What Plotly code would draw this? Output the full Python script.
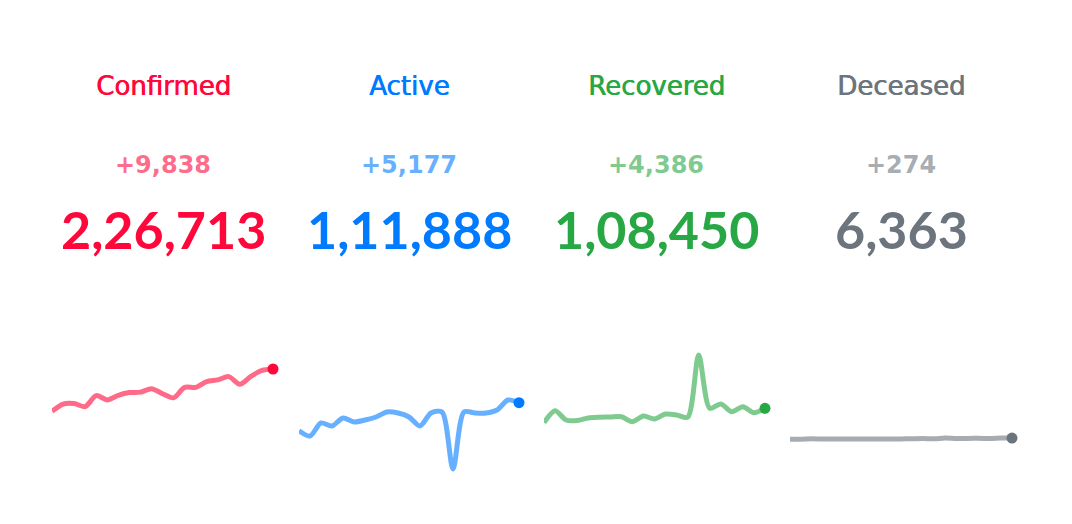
import plotly.graph_objects as go

categories = ["Confirmed", "Active", "Recovered", "Deceased"]
deltas = ["+9,838", "+5,177", "+4,386", "+274"]
totals = ["2,26,713", "1,11,888", "1,08,450", "6,363"]

days = list(range(21))
confirmed_daily = [3967, 4987, 5050, 4630, 6147, 5553, 6198, 6568, 6629, 7111, 6414,
                   5843, 7293, 7300, 8105, 8336, 8782, 7723, 8812, 9633, 9838]
active_daily = [1290, 550, 2360, 1940, 3050, 2500, 2770, 3190, 3880, 3740, 3190,
                1940, 3740, 3880, -4020, 3880, 3740, 3740, 4160, 5540, 5177]
recovered_daily = [2400, 4060, 2770, 2700, 3050, 3150, 3190, 3230, 2540, 3330, 2910,
                   3600, 3470, 3150, 11780, 4390, 4990, 3920, 4620, 3780, 4386]
deceased_daily = [100, 120, 157, 134, 132, 140, 132, 148, 137, 147, 146,
                  170, 194, 175, 265, 193, 223, 230, 204, 260, 274]

series = [confirmed_daily, active_daily, recovered_daily, deceased_daily]
strong = ["#ff073a", "#007bff", "#28a745", "#6c757d"]
light = ["rgba(255,7,58,0.6)", "rgba(0,123,255,0.6)", "rgba(40,167,69,0.6)", "rgba(108,117,125,0.6)"]

W, H = 1072, 524
x_px = [(52, 273), (299, 519), (544, 765), (790, 1012)]
centers = [163, 409, 656, 901]

fig = go.Figure()
for i, vals in enumerate(series):
    xa = "x" if i == 0 else f"x{i+1}"
    fig.add_trace(go.Scatter(x=days, y=vals, mode="lines", xaxis=xa, yaxis="y",
                             line=dict(color=light[i], width=5, shape="spline", smoothing=0.8),
                             cliponaxis=False, hoverinfo="skip", showlegend=False))
    fig.add_trace(go.Scatter(x=[days[-1]], y=[vals[-1]], mode="markers", xaxis=xa, yaxis="y",
                             marker=dict(color=strong[i], size=11), cliponaxis=False,
                             hoverinfo="skip", showlegend=False))

layout = dict(width=W, height=H, margin=dict(l=0, r=0, t=0, b=0),
              paper_bgcolor="white", plot_bgcolor="rgba(0,0,0,0)")
for i in range(4):
    key = "xaxis" if i == 0 else f"xaxis{i+1}"
    layout[key] = dict(domain=[x_px[i][0] / W, x_px[i][1] / W], range=[0, 20],
                       visible=False, fixedrange=True)
# shared y scale: 0 at y=440px, 9838 at 369px
scale = 71 / 9838
ymin = -(H - 440) / scale
ymax = ymin + H / scale
layout["yaxis"] = dict(domain=[0, 1], range=[ymin, ymax], visible=False, fixedrange=True)
fig.update_layout(**layout)

ann = []
for i in range(4):
    cx = centers[i] / W
    ann.append(dict(x=cx, y=1 - 86 / H, xref="paper", yref="paper", text=categories[i],
                    xanchor="center", yanchor="middle", showarrow=False,
                    font=dict(family="DejaVu Sans", size=26, color=strong[i], weight=400,
                              shadow=f"0.7px 0 0 {strong[i]}")))
    ann.append(dict(x=cx, y=1 - 165 / H, xref="paper", yref="paper", text=deltas[i],
                    xanchor="center", yanchor="middle", showarrow=False,
                    font=dict(family="DejaVu Sans", size=24, color=light[i], weight=700)))
    ann.append(dict(x=cx, y=1 - 229 / H, xref="paper", yref="paper", text=totals[i],
                    xanchor="center", yanchor="middle", showarrow=False,
                    font=dict(family="Lato", size=52, color=strong[i], weight=700)))
fig.update_layout(annotations=ann)

fig.write_html("out.html", config={"displayModeBar": False},
               post_script="document.body.style.margin='0';document.body.style.padding='0';")
